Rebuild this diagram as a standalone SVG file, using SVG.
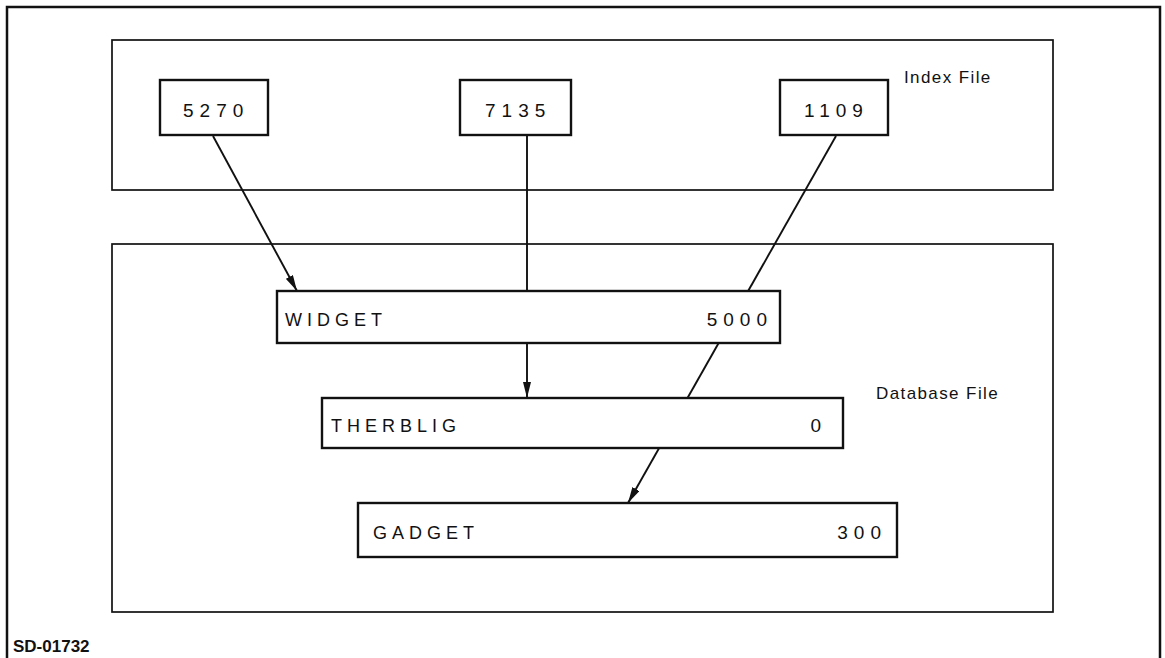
<svg xmlns="http://www.w3.org/2000/svg" width="1165" height="658" viewBox="0 0 1165 658">
<style>
.frame{fill:none;stroke:#111;stroke-width:2.5}
.area{fill:none;stroke:#111;stroke-width:1.7}
.node{fill:#fff;stroke:#111;stroke-width:2.4}
.num{font-family:"Liberation Sans",Arial,sans-serif;font-size:19px;letter-spacing:6px;fill:#111}
.word{font-family:"Liberation Sans",Arial,sans-serif;font-size:18px;letter-spacing:5px;fill:#111}
.cap{font-family:"Liberation Sans",Arial,sans-serif;font-size:17px;letter-spacing:1.4px;fill:#111}
.code{font-family:"Liberation Sans",Arial,sans-serif;font-size:17px;font-weight:bold;fill:#111}
.conn{stroke:#111;stroke-width:1.9;fill:none}
</style>
<defs>
<marker id="arr" viewBox="0 0 16 8" refX="16" refY="4" markerWidth="16" markerHeight="8" markerUnits="userSpaceOnUse" orient="auto">
<path d="M0,0 L16,4 L0,8 Z" fill="#111"/>
</marker>
</defs>
<rect width="1165" height="658" fill="#fff"/>
<path class="frame" d="M7,660 V7 H1160 V660"/>
<g id="index-file">
<rect class="area" x="112" y="40" width="941" height="150"/>
<text class="cap" x="904" y="83">Index File</text>
</g>
<g id="database-file">
<rect class="area" x="112" y="244" width="941" height="368"/>
<text class="cap" x="876" y="399">Database File</text>
</g>
<g id="connectors">
<line class="conn" x1="213" y1="136" x2="297" y2="291" marker-end="url(#arr)"/>
<line class="conn" x1="527" y1="136" x2="527" y2="398" marker-end="url(#arr)"/>
<line class="conn" x1="836" y1="136" x2="628" y2="503" marker-end="url(#arr)"/>
</g>
<g id="k5270">
<rect class="node" x="160" y="80" width="108" height="55"/>
<text class="num" x="183" y="117">5270</text>
</g>
<g id="k7135">
<rect class="node" x="460" y="80" width="111" height="55"/>
<text class="num" x="485" y="117">7135</text>
</g>
<g id="k1109">
<rect class="node" x="780" y="80" width="108" height="55"/>
<text class="num" x="804" y="117">1109</text>
</g>
<g id="widget">
<rect class="node" x="277" y="291" width="503" height="52"/>
<text class="word" x="285" y="326">WIDGET</text>
<text class="num" x="773" y="326" text-anchor="end">5000</text>
</g>
<g id="therblig">
<rect class="node" x="322" y="398" width="521" height="50"/>
<text class="word" x="331" y="432">THERBLIG</text>
<text class="num" x="827" y="432" text-anchor="end">0</text>
</g>
<g id="gadget">
<rect class="node" x="358" y="503" width="539" height="54"/>
<text class="word" x="373" y="539">GADGET</text>
<text class="num" x="887" y="539" text-anchor="end">300</text>
</g>
<text class="code" x="13" y="652">SD-01732</text>
</svg>
